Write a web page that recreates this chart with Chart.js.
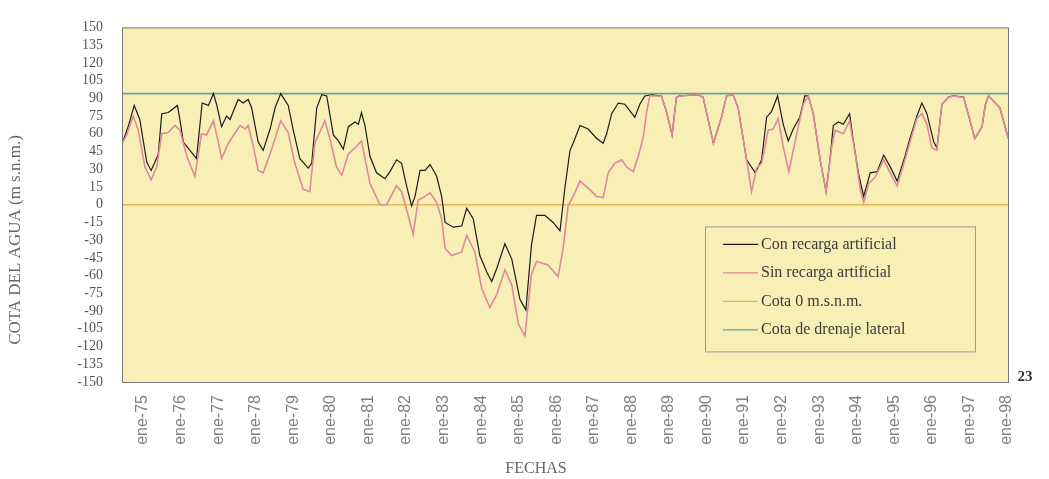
<!DOCTYPE html>
<html>
<head>
<meta charset="utf-8">
<script src="https://cdn.jsdelivr.net/npm/chart.js@4.4.1/dist/chart.umd.min.js"></script>
<style>
  html, body { margin: 0; padding: 0; background: #fff; }
  #wrap { width: 1049px; height: 479px; }
</style>
</head>
<body>
<div id="wrap"><canvas id="canvas"></canvas></div>
<script>
// Etiquetas del eje X (una por año, en enero)
const etiquetasAnios = ['ene-75', 'ene-76', 'ene-77', 'ene-78', 'ene-79', 'ene-80', 'ene-81', 'ene-82',
  'ene-83', 'ene-84', 'ene-85', 'ene-86', 'ene-87', 'ene-88', 'ene-89', 'ene-90', 'ene-91', 'ene-92',
  'ene-93', 'ene-94', 'ene-95', 'ene-96', 'ene-97', 'ene-98']
// rango del eje en meses contados desde ene-75
const mesMin = -6.7
const mesMax = 276.3

// Con recarga artificial
const mesesCon = [-6.6, -4.5, -2.8, -1, 1.2, 2.6, 3.8, 4.9, 6, 8.1,
  11, 11.8, 12.9, 15, 17.1, 18.9, 20.9, 22.5, 23.5, 25.1,
  26.7, 27.8, 30.4, 32, 33.6, 34.7, 36.8, 38.4, 40.6, 42.2,
  44, 46.4, 48, 50.1, 52.8, 53.9, 55.5, 57.1, 58.7, 60.8,
  62.4, 64, 65.6, 67.7, 68.8, 69.8, 70.9, 72.5, 74.6, 77.3,
  78.9, 81, 82.6, 84.2, 85.8, 86.9, 88.5, 90.1, 91.7, 93.8,
  95.4, 96.5, 99.1, 101.8, 103.4, 105.5, 107.6, 109.8, 111.4, 113,
  115.6, 117.8, 120.4, 122.3, 124.1, 125.7, 128.4, 131, 133.2, 134.8,
  136.4, 137.4, 139.6, 142.2, 144.9, 147, 148.1, 149.7, 151.8, 153.9,
  157.1, 158.7, 160.3, 162.5, 165.6, 167.2, 169, 170.4, 171.5, 177.3,
  178.9, 182.2, 184.8, 186.4, 188.5, 190.1, 192.8, 195.6, 197.6, 199.2,
  200.8, 202.7, 204.5, 206.1, 207.7, 209.8, 211.4, 212.5, 214.1, 216.3,
  218.2, 219.5, 220.5, 222.1, 223.7, 225.7, 226.9, 228.5, 230.2, 232.3,
  234.5, 236.6, 238.7, 240.9, 243.4, 245, 247.2, 248.8, 250.4, 252.6,
  253.6, 255.2, 257.3, 258.9, 262.1, 265.7, 268, 269.1, 270.1, 273.7,
  276.4]
const cotaCon = [52, 68, 84, 72, 36, 29, 36, 43, 77, 78,
  84, 72, 53, 46, 39, 86, 84, 94, 85, 66,
  75, 72, 89, 86, 89, 82, 53, 46, 64, 82,
  94, 84, 63, 39, 31, 35, 82, 93, 92, 59,
  54, 47, 66, 70, 68, 78, 67, 41, 27, 22,
  28, 38, 35, 16, -1, 7, 29, 29, 34, 24,
  7, -15, -19, -18, -3, -12, -43, -57, -65, -54,
  -33, -46, -80, -89, -34, -9, -9, -15, -22, 15,
  46, 52, 67, 64, 56, 52, 60, 77, 86, 85,
  74, 85, 92, 93, 92, 79, 59, 91, 92, 93,
  91, 52, 74, 92, 93, 82, 38, 27, 38, 74,
  79, 92, 68, 54, 64, 74, 92, 92, 77, 38,
  11, 40, 67, 70, 68, 77, 54, 27, 7, 27,
  28, 42, 32, 20, 41, 56, 75, 86, 77, 53,
  48, 85, 91, 92, 91, 56, 66, 85, 92, 82,
  56]

// Sin recarga artificial
const mesesSin = [-6.6, -5.2, -3.1, -1.5, 0.6, 2.6, 4.4, 6, 8.1, 10.2,
  11.8, 14, 16.6, 18.7, 20.3, 22.5, 24, 25.1, 27.3, 31,
  32.6, 33.6, 35.2, 36.8, 38.4, 40.6, 44, 46.4, 48.5, 51.2,
  53.3, 54.9, 58.1, 59.7, 61.8, 63.5, 65.6, 67.7, 69.8, 72.5,
  75.7, 77.8, 81, 82.6, 84.2, 86.3, 87.9, 89.5, 91.7, 93.8,
  95.4, 96.5, 98.6, 101.8, 103.4, 106, 108.2, 110.8, 113, 115.6,
  117.8, 119.9, 122, 124.1, 125.7, 129.4, 132.6, 134.2, 135.8, 137.4,
  139.6, 142.2, 144.9, 147, 148.6, 150.7, 152.9, 154.5, 156.6, 158.2,
  159.8, 160.9, 161.9, 165.6, 167.2, 169, 170.4, 171.5, 177.3, 178.9,
  182.2, 184.8, 186.4, 188.5, 190.1, 192.8, 194.4, 196, 197.6, 199.7,
  201.3, 202.9, 204.5, 206.3, 208.5, 210.9, 212.5, 214.1, 216.3, 218.2,
  220, 221.1, 223.7, 225.7, 227.5, 229.1, 230.2, 231.8, 233.8, 236.6,
  238.7, 240.9, 243.4, 245, 247.2, 248.8, 250.4, 252, 253.6, 255.2,
  257.3, 258.9, 262.1, 265.7, 268, 269.1, 270.1, 273.7, 276.4]
const cotaSin = [52, 59, 75, 63, 32, 21, 32, 60, 61, 67,
  63, 41, 24, 60, 59, 71, 54, 39, 52, 67,
  64, 67, 50, 29, 27, 43, 71, 61, 35, 13,
  11, 52, 71, 56, 32, 25, 43, 48, 54, 18,
  0, 0, 16, 11, -4, -25, 4, 6, 10, 2,
  -12, -37, -43, -40, -26, -40, -71, -87, -76, -55,
  -68, -101, -111, -59, -48, -51, -61, -37, -1, 7,
  20, 14, 7, 6, 27, 35, 38, 32, 28, 41,
  57, 79, 92, 92, 79, 59, 91, 92, 93, 91,
  52, 74, 92, 93, 82, 38, 11, 31, 35, 63,
  64, 73, 49, 28, 56, 85, 92, 77, 38, 11,
  49, 63, 60, 71, 43, 13, 2, 18, 23, 38,
  27, 16, 38, 53, 73, 77, 68, 48, 46, 85,
  91, 92, 91, 56, 66, 85, 92, 82, 56]

// Cotas de referencia (m s.n.m.)
const cotaCero = 0
const cotaDrenaje = 94

const serif = "'Liberation Serif', 'DejaVu Serif', serif"
const sans = "'Liberation Sans', Arial, sans-serif"

const puntos = (xs, ys) => xs.map((x, i) => ({ x: x, y: ys[i] }))
const horizontal = v => [{ x: mesMin, y: v }, { x: mesMax, y: v }]

// fondo amarillo, marco, leyenda y textos sueltos
const decorado = {
  id: 'decorado',
  beforeDraw(chart) {
    const { ctx, chartArea: a } = chart
    ctx.save()
    ctx.fillStyle = '#f7efb6'
    ctx.fillRect(a.left, a.top, a.width, a.height)
    ctx.restore()
  },
  afterDraw(chart) {
    const { ctx, chartArea: a } = chart
    ctx.save()
    ctx.strokeStyle = '#7a7a7a'
    ctx.lineWidth = 1
    ctx.strokeRect(a.left + 0.5, a.top + 0.5, a.width, a.height)

    // leyenda dentro del área del gráfico
    const lx = a.left + 583, ly = a.top + 199
    ctx.strokeStyle = '#9a9a9a'
    ctx.strokeRect(lx + 0.5, ly + 0.5, 270, 125)
    ctx.font = '16px ' + serif
    ctx.textBaseline = 'middle'
    chart.data.datasets.forEach((ds, i) => {
      const y = ly + 18 + i * 28.5
      ctx.strokeStyle = ds.borderColor
      ctx.lineWidth = 1.4
      ctx.beginPath()
      ctx.moveTo(lx + 18, y)
      ctx.lineTo(lx + 53, y)
      ctx.stroke()
      ctx.fillStyle = '#3a3a3a'
      ctx.fillText(ds.label, lx + 56, y)
    })

    // títulos de ejes
    ctx.fillStyle = '#666'
    ctx.textAlign = 'center'
    ctx.font = '16px ' + serif
    ctx.fillText('FECHAS', 536, 469)
    ctx.save()
    ctx.translate(16, 240)
    ctx.rotate(-Math.PI / 2)
    ctx.font = '17px ' + serif
    ctx.fillText('COTA DEL AGUA (m s.n.m.)', 0, 0)
    ctx.restore()

    ctx.fillStyle = '#333'
    ctx.font = 'bold 15px ' + serif
    ctx.fillText('23', a.right + 17, a.bottom - 5)
    ctx.restore()
  }
}

const data = {
  datasets: [
    {
      label: 'Con recarga artificial',
      data: puntos(mesesCon, cotaCon),
      borderColor: '#1c1c1c',
      borderWidth: 1.2,
      order: 2,
    },
    {
      label: 'Sin recarga artificial',
      data: puntos(mesesSin, cotaSin),
      borderColor: '#e0899a',
      borderWidth: 1.6,
      order: 1,
    },
    {
      label: 'Cota 0 m.s.n.m.',
      data: horizontal(cotaCero),
      borderColor: '#efb24e',
      borderWidth: 1.5,
      order: 3,
    },
    {
      label: 'Cota de drenaje lateral',
      data: horizontal(cotaDrenaje),
      borderColor: '#6d9f9b',
      borderWidth: 1.6,
      order: 4,
    },
  ],
}

const config = {
  type: 'line',
  data: data,
  options: {
    responsive: true,
    maintainAspectRatio: false,
    animation: false,
    layout: { padding: { top: 21, right: 41, left: 0, bottom: 0 } },
    elements: { point: { radius: 0 }, line: { tension: 0, fill: false } },
    plugins: { legend: { display: false }, tooltip: { enabled: false } },
    scales: {
      x: {
        type: 'linear',
        min: mesMin,
        max: mesMax,
        grid: { display: false, drawTicks: false },
        border: { display: false },
        afterBuildTicks: s => { s.ticks = etiquetasAnios.map((_, i) => ({ value: i * 12 })) },
        afterFit: s => { s.height = 97 },
        ticks: {
          autoSkip: false,
          maxRotation: 90,
          minRotation: 90,
          padding: 13,
          color: '#808080',
          font: { family: sans, size: 16 },
          callback: (v, i) => etiquetasAnios[i],
        },
      },
      y: {
        min: -150,
        max: 150,
        grid: { display: false, drawTicks: false },
        border: { display: false },
        afterFit: s => { s.width = 122 },
        ticks: {
          stepSize: 15,
          autoSkip: false,
          padding: 19,
          color: '#555',
          font: { family: serif, size: 14 },
        },
      },
    },
  },
  plugins: [decorado],
}

const canvas = document.getElementById('canvas')
const chart = new Chart(canvas, config)
</script>
</body>
</html>
